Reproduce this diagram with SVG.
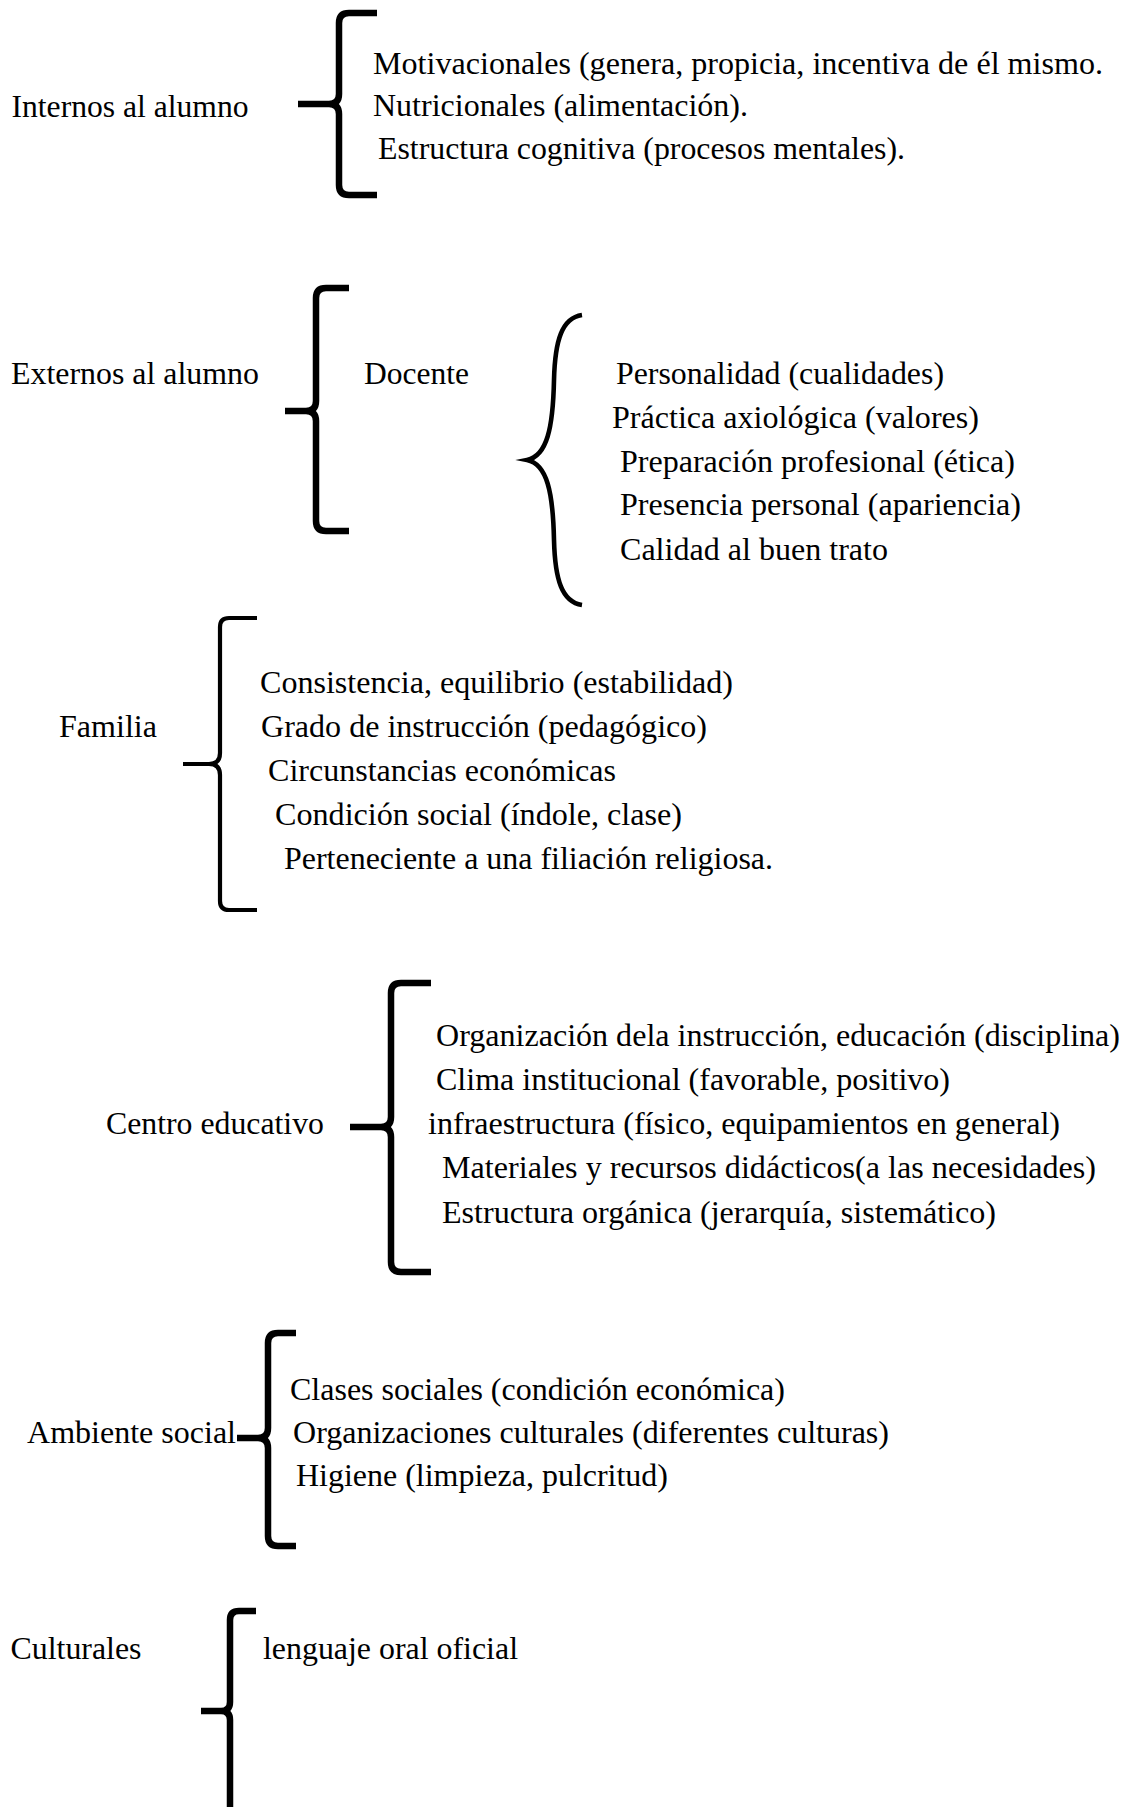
<svg xmlns="http://www.w3.org/2000/svg" width="1126" height="1807" viewBox="0 0 1126 1807">
<style>
text{font-family:"Liberation Serif","Times New Roman",serif;font-size:31px;fill:#000}
.br{fill:none;stroke:#000;stroke-width:6.5;stroke-linejoin:round;stroke-linecap:butt}
.thin{stroke-width:4.2}
.cb{fill:none;stroke:#000;stroke-width:4.6;stroke-linejoin:miter;stroke-miterlimit:10}
</style>
<rect width="1126" height="1807" fill="#fff"/>
<g id="connectors">
<path class="br" d="M377,13 H349 Q339,13 339,23 V94 Q339,104 329,104 H298 M298,104 H329 Q339,104 339,114 V185 Q339,195 349,195 H377"/>
<path class="br" d="M349,288 H326 Q316,288 316,298 V401 Q316,411 306,411 H285 M285,411 H306 Q316,411 316,421 V521 Q316,531 326,531 H349"/>
<path class="cb" d="M582,315 C562,318 555,340 554,380 C553,428 547,456 527,460 C547,464 553,492 554,540 C555,580 562,602 582,605"/>
<path class="br thin" d="M257,618 H229 Q220,618 220,627 V753 Q220,764 209,764 H183 M183,764 H209 Q220,764 220,775 V901 Q220,910 229,910 H257"/>
<path class="br" d="M431,983 H401 Q391,983 391,993 V1117 Q391,1127 381,1127 H350 M350,1127 H381 Q391,1127 391,1137 V1262 Q391,1272 401,1272 H431"/>
<path class="br" d="M296,1333 H278 Q268,1333 268,1343 V1428 Q268,1438 258,1438 H237 M237,1438 H258 Q268,1438 268,1448 V1536 Q268,1546 278,1546 H296"/>
<path class="br" d="M256,1611 H239 Q230,1611 230,1620 V1702 Q230,1711 221,1711 H201 M201,1711 H221 Q230,1711 230,1720 V1812"/>
</g>
<g id="internos">
<text x="11.5" y="116.5" textLength="237" lengthAdjust="spacingAndGlyphs">Internos al alumno</text>
<text x="373" y="74" textLength="730" lengthAdjust="spacingAndGlyphs">Motivacionales (genera, propicia, incentiva de él mismo.</text>
<text x="373" y="116" textLength="375" lengthAdjust="spacingAndGlyphs">Nutricionales (alimentación).</text>
<text x="378" y="159" textLength="527" lengthAdjust="spacingAndGlyphs">Estructura cognitiva (procesos mentales).</text>
</g>
<g id="externos">
<text x="11" y="384" textLength="248" lengthAdjust="spacingAndGlyphs">Externos al alumno</text>
</g>
<g id="docente">
<text x="364" y="384" textLength="105" lengthAdjust="spacingAndGlyphs">Docente</text>
</g>
<g id="docente-items">
<text x="616" y="384" textLength="328" lengthAdjust="spacingAndGlyphs">Personalidad (cualidades)</text>
<text x="612" y="428" textLength="367" lengthAdjust="spacingAndGlyphs">Práctica axiológica (valores)</text>
<text x="620" y="472" textLength="395" lengthAdjust="spacingAndGlyphs">Preparación profesional (ética)</text>
<text x="620" y="515" textLength="401" lengthAdjust="spacingAndGlyphs">Presencia personal (apariencia)</text>
<text x="620" y="560" textLength="268" lengthAdjust="spacingAndGlyphs">Calidad al buen trato</text>
</g>
<g id="familia">
<text x="59" y="737" textLength="98" lengthAdjust="spacingAndGlyphs">Familia</text>
<text x="260" y="693" textLength="473" lengthAdjust="spacingAndGlyphs">Consistencia, equilibrio (estabilidad)</text>
<text x="261" y="737" textLength="446" lengthAdjust="spacingAndGlyphs">Grado de instrucción (pedagógico)</text>
<text x="268" y="781" textLength="348" lengthAdjust="spacingAndGlyphs">Circunstancias económicas</text>
<text x="275" y="825" textLength="407" lengthAdjust="spacingAndGlyphs">Condición social (índole, clase)</text>
<text x="284" y="869" textLength="489" lengthAdjust="spacingAndGlyphs">Perteneciente a una filiación religiosa.</text>
</g>
<g id="centro">
<text x="106" y="1133.5" textLength="218" lengthAdjust="spacingAndGlyphs">Centro educativo</text>
<text x="436" y="1046" textLength="684" lengthAdjust="spacingAndGlyphs">Organización dela instrucción, educación (disciplina)</text>
<text x="436" y="1090" textLength="514" lengthAdjust="spacingAndGlyphs">Clima institucional (favorable, positivo)</text>
<text x="428" y="1133.5" textLength="632" lengthAdjust="spacingAndGlyphs">infraestructura (físico, equipamientos en general)</text>
<text x="442" y="1178" textLength="654" lengthAdjust="spacingAndGlyphs">Materiales y recursos didácticos(a las necesidades)</text>
<text x="442" y="1222.5" textLength="554" lengthAdjust="spacingAndGlyphs">Estructura orgánica (jerarquía, sistemático)</text>
</g>
<g id="ambiente">
<text x="27" y="1442.5" textLength="209" lengthAdjust="spacingAndGlyphs">Ambiente social</text>
<text x="290" y="1399.5" textLength="495" lengthAdjust="spacingAndGlyphs">Clases sociales (condición económica)</text>
<text x="293" y="1442.5" textLength="596" lengthAdjust="spacingAndGlyphs">Organizaciones culturales (diferentes culturas)</text>
<text x="296" y="1485.5" textLength="372" lengthAdjust="spacingAndGlyphs">Higiene (limpieza, pulcritud)</text>
</g>
<g id="culturales">
<text x="10.5" y="1659" textLength="131" lengthAdjust="spacingAndGlyphs">Culturales</text>
<text x="263" y="1659" textLength="255" lengthAdjust="spacingAndGlyphs">lenguaje oral oficial</text>
</g>
</svg>
